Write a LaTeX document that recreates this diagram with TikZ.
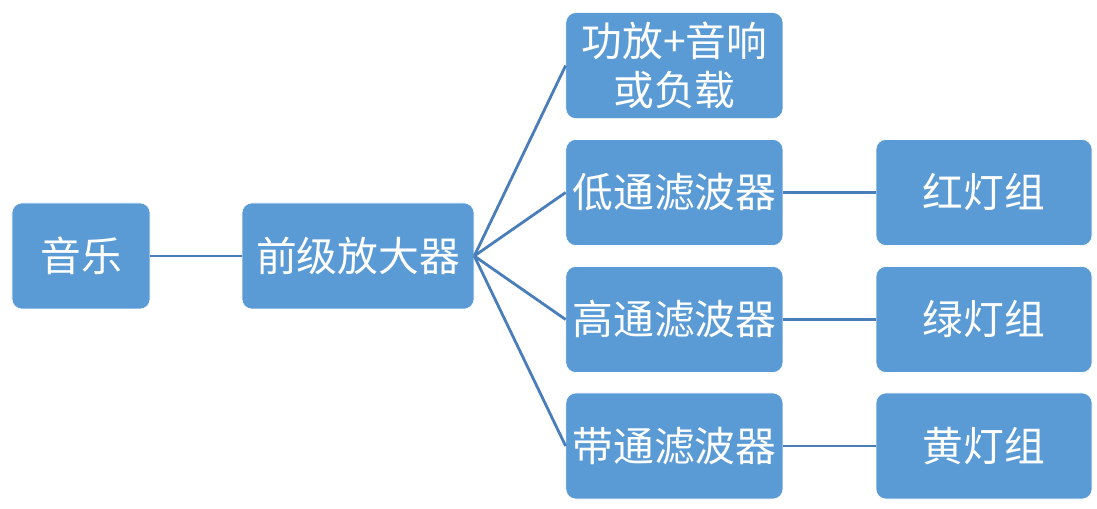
\documentclass[tikz,border=0pt]{standalone}
\usepackage{fontspec}
\newfontfamily\cjk{Noto Sans CJK SC}
\usetikzlibrary{positioning}
\definecolor{boxblue}{HTML}{5B9BD5}
\definecolor{lineblue}{HTML}{4A7EBB}
\tikzset{
    block/.style={rectangle, rounded corners=0.25cm, fill=boxblue, draw=white, line width=0.4pt,
      text=white, inner sep=0pt, align=center, minimum height=2.65cm,
      font=\cjk\fontsize{29}{35}\selectfont}, % the blue boxes
    link/.style={draw=lineblue, line width=2pt}, % connectors
}
\begin{document}
\begin{tikzpicture}[]
  \useasboundingbox (0,0) rectangle (27.425,12.7);

  \node[block,minimum width=3.45cm] (music) at (2.025,6.3) {音乐};
  \node[block,minimum width=5.8cm] (pre) at (8.95,6.3) {前级放大器};

  \node[block,minimum width=5.425cm] (amp) at (16.86,11.06) {功放+音响\\或负载};
  \node[block,minimum width=5.425cm] (low) at (16.86,7.8875) {低通滤波器};
  \node[block,minimum width=5.425cm] (high) at (16.86,4.7125) {高通滤波器};
  \node[block,minimum width=5.425cm] (band) at (16.86,1.55) {带通滤波器};

  \node[block,minimum width=5.4cm] (red) at (24.6,7.8875) {红灯组};
  \node[block,minimum width=5.4cm] (green) at (24.6,4.7125) {绿灯组};
  \node[block,minimum width=5.4cm] (yellow) at (24.6,1.55) {黄灯组};

  \path[link]
    (music) edge (pre)
    (pre.east) edge (amp.west)
    (pre.east) edge (low.west)
    (pre.east) edge (high.west)
    (pre.east) edge (band.west)
    (low) edge (red)
    (high) edge (green)
    (band) edge (yellow);
\end{tikzpicture}
\end{document}
